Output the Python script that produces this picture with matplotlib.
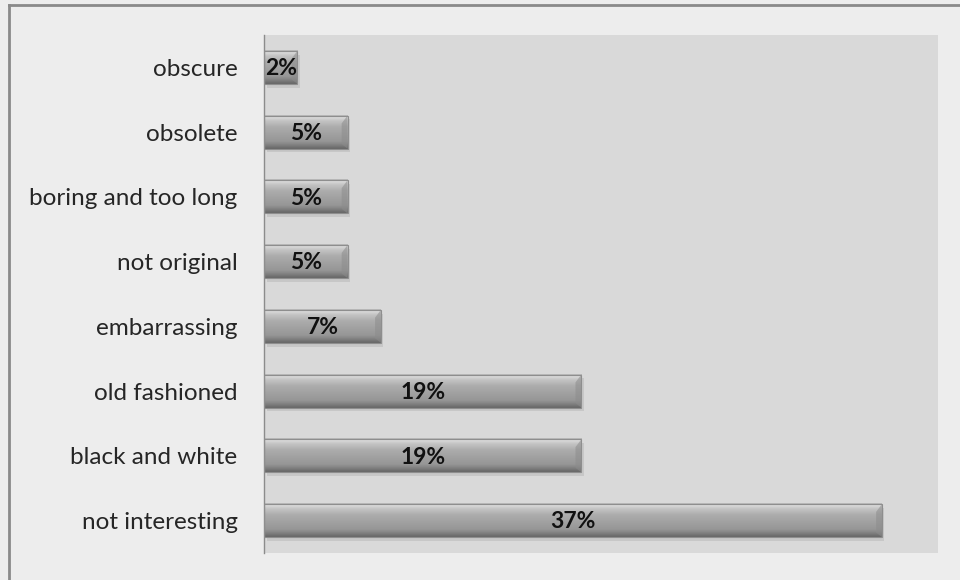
import matplotlib.pyplot as plt
import numpy as np
from matplotlib.colors import LinearSegmentedColormap
from matplotlib.patches import Rectangle, Polygon
from matplotlib.lines import Line2D

categories = ["not interesting", "black and white", "old fashioned", "embarrassing",
              "not original", "boring and too long", "obsolete", "obscure"]
percent = [37, 19, 19, 7, 5, 5, 5, 2]

plt.rcParams['font.family'] = ['Lato', 'DejaVu Sans']

fig = plt.figure(figsize=(9.6, 5.8), dpi=100)
fig.patch.set_facecolor('#ededed')
ax = fig.add_axes([0.275, 0.0466, 0.702, 0.8931])
ax.set_facecolor('#d9d9d9')

# bevelled grey bars: vertical gradient, highlight on top, soft shadow below
shade = LinearSegmentedColormap.from_list(
    'bevel', [(0.0, '#b4b4b4'), (0.06, '#dadada'), (0.16, '#c4c4c4'),
              (0.35, '#acacac'), (0.78, '#969696'), (0.88, '#828282'),
              (1.0, '#666666')])
grad = np.linspace(0, 1, 64).reshape(-1, 1)
h = 0.51
for i, v in enumerate(percent):
    ax.add_patch(Rectangle((0.15, i - h / 2 - 0.06), v, h, color='#a0a0a0',
                           alpha=0.3, lw=0, zorder=1))
    ax.imshow(grad, extent=[0, v, i - h / 2, i + h / 2], aspect='auto',
              cmap=shade, origin='upper', zorder=2, interpolation='bilinear')
    bev = 0.35
    ax.add_patch(Polygon([(v - bev, i - h / 2 + 0.07), (v, i - h / 2),
                          (v, i + h / 2), (v - bev, i + h / 2 - 0.12)],
                         closed=True, color='#8c8c8c', alpha=0.55, lw=0, zorder=3))
    ax.add_patch(Rectangle((0, i - h / 2), v, h, fill=False, ec='#8e8e8e',
                           lw=0.8, zorder=4))
    ax.text(v / 2, i - 0.02, f"{v}%", ha='center', va='center',
            fontsize=16.5, fontweight='bold', color='#111111', zorder=5)

ax.set_xlim(0, 40.35)
ax.set_ylim(-0.5, len(categories) - 0.5)
ax.set_yticks(range(len(categories)))
ax.set_yticklabels(categories, fontsize=17.5, color='#262626')
ax.tick_params(axis='y', length=0, pad=19)
ax.set_xticks([])
for side in ['top', 'right', 'bottom']:
    ax.spines[side].set_visible(False)
ax.spines['left'].set_color('#8c8c8c')
ax.spines['left'].set_linewidth(1.0)

# chart frame, open at right and bottom
fig.add_artist(Line2D([8.5 / 960, 8.5 / 960], [0, 1 - 4.5 / 580],
                      transform=fig.transFigure, color='#8a8a8a', lw=2))
fig.add_artist(Line2D([8.5 / 960, 1], [1 - 4.5 / 580, 1 - 4.5 / 580],
                      transform=fig.transFigure, color='#8a8a8a', lw=2))

fig.savefig('out.png', dpi=100, facecolor=fig.get_facecolor())
